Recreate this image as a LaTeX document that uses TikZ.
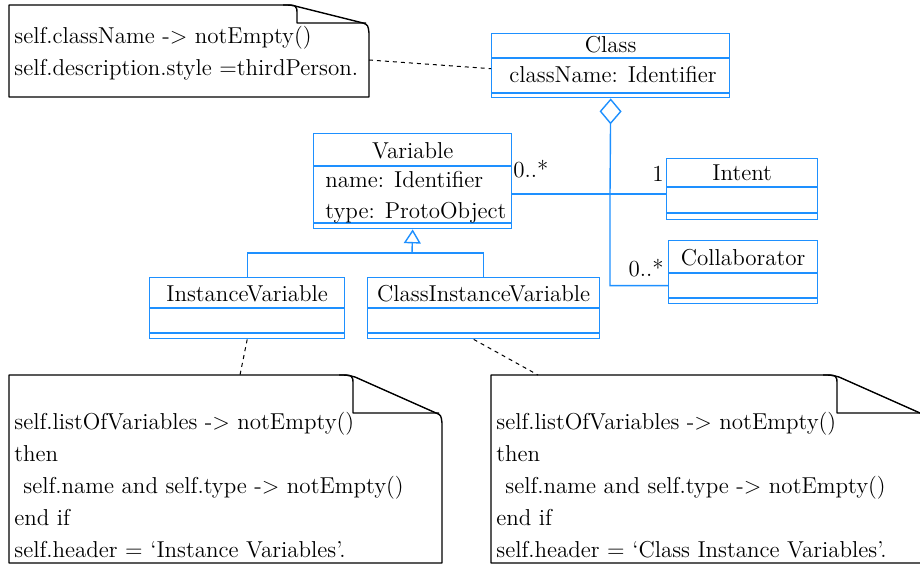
\documentclass[tikz,border=0pt]{standalone}
\usepackage{tikz}
\usetikzlibrary{arrows.meta}
\definecolor{umlblue}{RGB}{30,144,255}

\begin{document}
\begin{tikzpicture}[
  x=0.5pt, y=-0.5pt,
  every node/.style={font=\fontsize{11.5}{16}\selectfont},
  uml/.style={draw=umlblue, line width=0.7pt},
  umlbox/.style={
    uml, rectangle, inner sep=0pt, anchor=north west
  },
  noteline/.style={draw=black, line width=0.7pt, line join=round},
  notelink/.style={draw=black, line width=0.5pt, dash pattern=on 2pt off 2pt},
  txt/.style={inner sep=0pt, align=left},
  mult/.style={inner sep=0pt}
]
  \useasboundingbox (0,0) rectangle (920,565);
  % class boxes: name/x/y/width/height/line1/line2/title baseline/title
  \foreach \nm/\x/\y/\w/\h/\la/\lb/\tb/\title in {
      cls/491/33/238/64/25/60/20/Class,
      var/313/133/198/95/33/90/26/Variable,
      intent/666/158/151/61/29/55/23/Intent,
      collab/668/240/149/63/33/58/26/Collaborator,
      ivar/149/277/195/61/31/56/25/InstanceVariable,
      civar/367/277/232/61/31/56/25/ClassInstanceVariable} {
    \node[umlbox, minimum width=\w*0.5pt, minimum height=\h*0.5pt] (\nm) at (\x,\y){};
    \draw[uml] (\nm.north west) ++(0,\la) -- ++(\w,0);
    \draw[uml] (\nm.north west) ++(0,\lb) -- ++(\w,0);
    \node[txt, anchor=base] (\nm-title) at ([yshift=-\tb*0.5pt]\nm.north){\title};
  }
  \node[txt, anchor=base west] (cls-attr) at (509,83){className: Identifier};
  \node[txt, anchor=north west, font=\fontsize{11.5}{15.5}\selectfont] (var-attr) at (325,171)
    {name: Identifier\\type: ProtoObject};

  % notes with folded corner: x0/y0/x1/y1/fold width/fold depth
  \foreach \xa/\ya/\xb/\yb/\fx/\fy in {9/5/369/97/72/18, 9/375/442/563/89/38, 491/375/926/563/89/38} {
    \draw[noteline] (\xa,\yb) -- (\xa,\ya) -- ({\xb-\fx-14},\ya)
      .. controls ({\xb-\fx-6},\ya) .. ({\xb-\fx+2},{\ya+2})
      -- ({\xb-6},{\ya+\fy}) .. controls ({\xb-1},{\ya+\fy+2}) .. (\xb,{\ya+\fy+10})
      -- (\xb,\yb) -- cycle;
    \draw[noteline] ({\xb-\fx-14},\ya) .. controls ({\xb-\fx},\ya) .. ({\xb-\fx},{\ya+10})
      -- ({\xb-\fx},{\ya+\fy}) -- ({\xb-3},{\ya+\fy});
  }
  \node[txt, anchor=north west] (cnote) at (14,26)
    {self.className -> notEmpty()\\self.description.style =thirdPerson.};
  \node[txt, anchor=north west] (ivnote) at (14,412)
    {self.listOfVariables -> notEmpty()\\then\\\hspace*{4.5pt}self.name and self.type -> notEmpty()\\end if\\self.header = ‘Instance Variables’.};
  \node[txt, anchor=north west] (civnote) at (496,412)
    {self.listOfVariables -> notEmpty()\\then\\\hspace*{4.5pt}self.name and self.type -> notEmpty()\\end if\\self.header = ‘Class Instance Variables’.};

  \coordinate (cnote-link) at (369,60);
  \coordinate (ivnote-link) at (240,375);
  \coordinate (civnote-link) at (538,375);
  \draw[notelink] (cnote-link) -- ([yshift=-1.5pt]cls.west);
  \draw[notelink] (ivar.south) -- (ivnote-link);
  \draw[notelink] ([xshift=-5pt]civar.south) -- (civnote-link);

  % aggregation
  \coordinate (hub) at (610,194);
  \draw[uml, {Diamond[open, length=13pt, width=11pt]}-] (cls.south) -- (hub) |- ([yshift=-6.75pt]collab.west);
  \draw[uml] (hub -| var.east) -- (hub -| intent.west);
  \node[mult, anchor=base west] (m-var) at (513,178){0..*};
  \node[mult, anchor=base east] (m-intent) at (664,182){1};
  \node[mult, anchor=base east] (m-collab) at (664,277){0..*};

  % generalization
  \coordinate (gen) at (412,253);
  \draw[uml, -{Triangle[open, length=7pt, width=8.5pt]}] (gen) -- (var.south);
  \draw[uml] (ivar.north) |- (gen) -| (civar.north);
\end{tikzpicture}
\end{document}
